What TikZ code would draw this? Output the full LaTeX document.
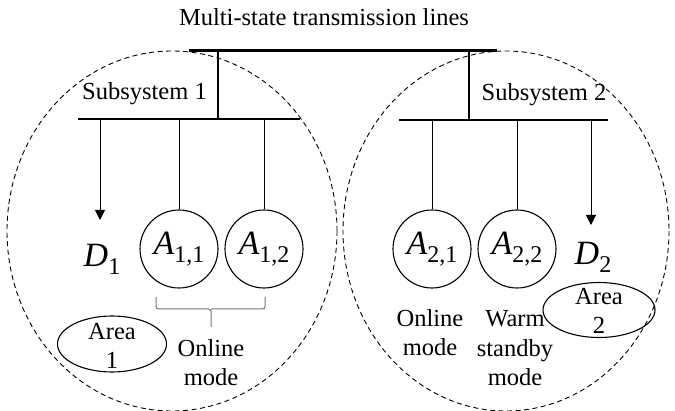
\documentclass[tikz,border=0pt]{standalone}
\usepackage{fontspec}
\setmainfont{Liberation Serif}
\usetikzlibrary{arrows.meta,shapes.geometric}
\newcommand{\unitlbl}[2]{{\fontsize{34}{34}\selectfont\itshape #1}\raisebox{-8pt}{\fontsize{24}{24}\selectfont #2}}
\tikzset{
  lbl/.style={font=\fontsize{24.5}{29.5}\selectfont, inner sep=0pt, align=center},
  unitnode/.style={circle, draw, line width=1.1pt, minimum size=78pt, inner sep=0pt},
  areaell/.style={ellipse, draw, line width=1.1pt, inner sep=0pt},
  region/.style={draw, dashed, dash pattern=on 5pt off 3.5pt, line width=0.9pt},
  bus/.style={line width=2.6pt},
  mainbus/.style={line width=3pt},
  drop/.style={line width=1pt},
  droparrow/.style={line width=1pt, -{Triangle[length=10pt,width=10pt]}},
  bracestyle/.style={draw=black!55, line width=1pt, rounded corners=2.5pt},
}
\begin{document}
\begin{tikzpicture}[x=1pt,y=-1pt]
\useasboundingbox (0,0) rectangle (675,411);
% dashed regions
\draw[region] (172,231) ellipse [x radius=165, y radius=180];
\draw[region] (506,231) ellipse [x radius=163, y radius=180];
% title
\node[lbl, anchor=base] (title) at (324,26) {Multi-state transmission lines};
% buses
\coordinate (tb1) at (189,51);
\coordinate (tb2) at (497,51);
\coordinate (s1a) at (78,119);
\coordinate (s1b) at (300,119);
\coordinate (s2a) at (399,120);
\coordinate (s2b) at (608,120);
\coordinate (j1) at (218,0);
\coordinate (j2) at (469,0);
\draw[mainbus] (tb1) -- (tb2);
\draw[bus] (s1a) -- (s1b);
\draw[bus] (s2a) -- (s2b);
\draw[bus] (j1 |- tb1) -- (j1 |- s1a);
\draw[bus] (j2 |- tb2) -- (j2 |- s2a);
\node[lbl, anchor=base] (sub1) at (144.5,100) {Subsystem 1};
\node[lbl, anchor=base] (sub2) at (544,101) {Subsystem 2};
% units
\node[unitnode] (A11) at (179,249) {\unitlbl{A}{1,1}};
\node[unitnode] (A12) at (264,249) {\unitlbl{A}{1,2}};
\node[unitnode] (A21) at (432,249) {\unitlbl{A}{2,1}};
\node[unitnode] (A22) at (517,249) {\unitlbl{A}{2,2}};
\draw[drop] (A11.north |- s1a) -- (A11.north);
\draw[drop] (A12.north |- s1a) -- (A12.north);
\draw[drop] (A21.north |- s2a) -- (A21.north);
\draw[drop] (A22.north |- s2a) -- (A22.north);
% demands
\coordinate (d1tip) at (100,220);
\coordinate (d2tip) at (591,225);
\draw[droparrow] (d1tip |- s1a) -- (d1tip);
\draw[droparrow] (d2tip |- s2a) -- (d2tip);
\node[inner sep=0pt, anchor=base] (D1) at (102,267) {\unitlbl{D}{1}};
\node[inner sep=0pt, anchor=base] (D2) at (593,265) {\unitlbl{D}{2}};
% areas
\node[areaell, minimum width=109pt, minimum height=56pt] (ar1) at (112,344) {};
\node[lbl, anchor=base] (ar1t) at (112,369) {Area\\1};
\node[areaell, minimum width=112pt, minimum height=55pt] (ar2) at (599,310) {};
\node[lbl, anchor=base] (ar2t) at (599,334) {Area\\2};
% brace
\draw[bracestyle] (156,297) |- (211,309) -- (211,327);
\draw[bracestyle] (265,297) |- (211,309);
% mode labels
\node[lbl, anchor=base] (m1) at (211,386) {Online\\mode};
\node[lbl, anchor=base] (m2) at (430,356) {Online\\mode};
\node[lbl, anchor=base] (m3) at (515,386) {Warm\\standby\\mode};
\end{tikzpicture}
\end{document}
